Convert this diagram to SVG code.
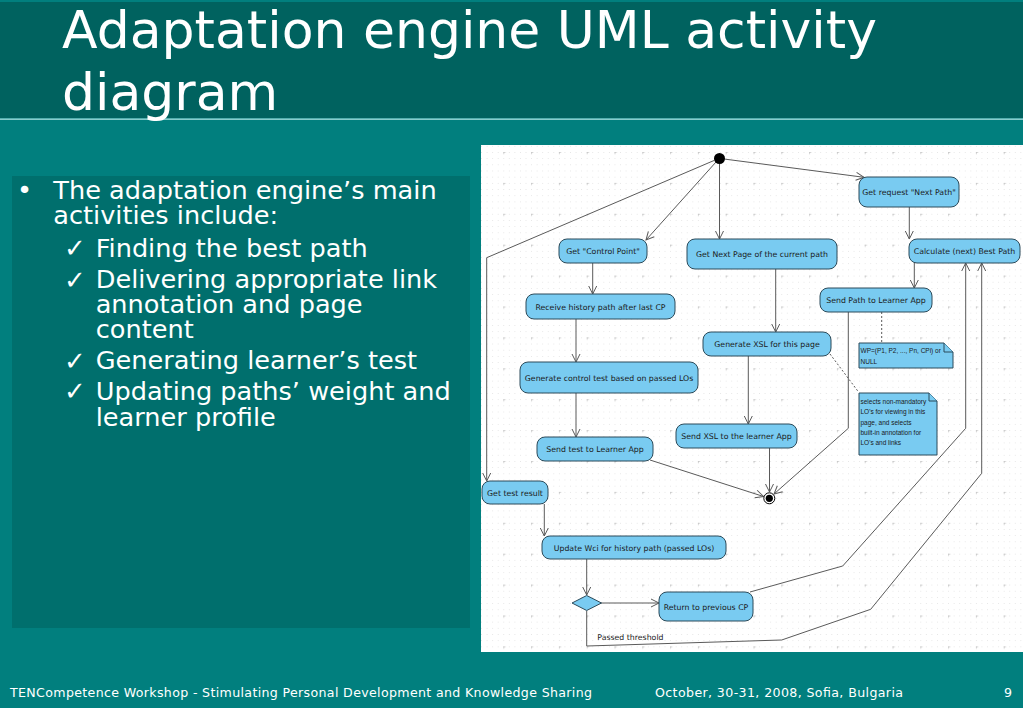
<svg xmlns="http://www.w3.org/2000/svg" width="1023" height="708" viewBox="0 0 1023 708">
<style>
.bg{fill:#017f7e}
.band{fill:#00625f}
.title{font-family:"DejaVu Sans",Verdana,sans-serif;font-size:52px;fill:#ffffff}
.body{font-family:"DejaVu Sans",Verdana,sans-serif;font-size:25.6px;fill:#ffffff}
.chk{font-family:"DejaVu Sans",sans-serif;font-size:26px;fill:#ffffff}
.foot{font-family:"DejaVu Sans",Verdana,sans-serif;font-size:12.6px;fill:#ffffff}
.node rect{fill:#79cbf1;stroke:#2d4b5a;stroke-width:1}
.node text{font-family:"DejaVu Sans",Verdana,sans-serif;font-size:7.8px;fill:#1a1a1a;text-anchor:middle}
.note path{fill:#79cbf1;stroke:#2d4b5a;stroke-width:1}
.note text{font-family:"Liberation Sans",Arial,sans-serif;font-size:6.5px;fill:#1a1a1a}
.conn path{fill:none;stroke:#5a5a5a;stroke-width:1}
.conn path.arr{marker-end:url(#arrow)}
.conn path.dot{stroke-dasharray:2 2}
.lbl{font-family:"DejaVu Sans",Verdana,sans-serif;font-size:7.8px;fill:#1a1a1a}
</style>
<defs>
<marker id="arrow" viewBox="-9 -5 10 10" markerWidth="10" markerHeight="10" refX="0" refY="0" orient="auto" markerUnits="userSpaceOnUse">
<path d="M-8,-4 L0,0 L-8,4" fill="none" stroke="#5a5a5a" stroke-width="1"/>
</marker>
<pattern id="dots" patternUnits="userSpaceOnUse" x="503.3" y="152" width="5.56" height="6.18">
<rect x="0" y="0" width="0.8" height="0.8" fill="#dcdcdc"/>
</pattern>
<pattern id="cross" patternUnits="userSpaceOnUse" x="503.3" y="152" width="27.8" height="30.9">
<path d="M-1.5,0.4 H2.3 M0.4,-1.5 V2.3" stroke="#c4c4c4" stroke-width="0.8"/>
</pattern>
</defs>

<rect class="bg" x="0" y="0" width="1023" height="708"/>
<rect class="band" x="0" y="2" width="1023" height="116"/>
<rect x="0" y="118.5" width="1023" height="1.3" fill="#a8dede"/>
<text class="title" x="62" y="48">Adaptation engine UML activity</text>
<text class="title" x="62" y="110">diagram</text>

<rect x="12" y="176" width="458" height="452" fill="#006f6d"/>
<g id="bullets">
<text class="body" x="17" y="199">•</text>
<text class="body" x="53.3" y="199">The adaptation engine’s main</text>
<text class="body" x="53.3" y="224.3">activities include:</text>
<text class="chk" x="64" y="257">✓</text>
<text class="body" x="95.7" y="256.7">Finding the best path</text>
<text class="chk" x="64" y="288.6">✓</text>
<text class="body" x="95.7" y="288.3">Delivering appropriate link</text>
<text class="body" x="95.7" y="313.3">annotation and page</text>
<text class="body" x="95.7" y="337.7">content</text>
<text class="chk" x="64" y="369.6">✓</text>
<text class="body" x="95.7" y="369.3">Generating learner’s test</text>
<text class="chk" x="64" y="400.3">✓</text>
<text class="body" x="95.7" y="400">Updating paths’ weight and</text>
<text class="body" x="95.7" y="425.7">learner profile</text>
</g>

<rect x="481" y="145" width="542" height="507" fill="#ffffff"/>
<rect x="481" y="145" width="542" height="507" fill="url(#dots)"/>
<rect x="481" y="145" width="542" height="507" fill="url(#cross)"/>

<g id="connectors" class="conn">
<path class="arr" d="M724,159 L864,177.3"/>
<path class="arr" d="M719.5,163.5 V239"/>
<path class="arr" d="M716,162 L646,240"/>
<path class="arr" d="M714,160.5 L486.7,257.7 V481"/>
<path class="arr" d="M909.3,207 V239"/>
<path class="arr" d="M914.3,263 V288"/>
<path class="arr" d="M592.7,263 V294"/>
<path class="arr" d="M775.7,269 V332"/>
<path class="arr" d="M576,319 V362"/>
<path class="arr" d="M748.3,356 V424"/>
<path class="arr" d="M576,393 V437"/>
<path class="arr" d="M650,460 L763.5,496.5"/>
<path class="arr" d="M769.5,448 V492"/>
<path class="arr" d="M848.3,312 V428.3 L774,494"/>
<path class="arr" d="M544.3,504 V536"/>
<path class="arr" d="M586.7,559 V595"/>
<path class="arr" d="M601,603 H659"/>
<path class="arr" d="M586.7,611 V646 L781.7,640 L870.7,609.3 L981.7,473.3 V263"/>
<path class="arr" d="M750,592 L842.7,566 L965.7,428.3 V263"/>
<path class="dot" d="M881.7,312 V343"/>
<path class="dot" d="M830,354 L858.3,391.7"/>
</g>
<text class="lbl" x="597.3" y="639.5">Passed threshold</text>

<g id="start"><circle cx="719.5" cy="158.5" r="5.5" fill="#000000"/></g>
<g id="end"><circle cx="769.3" cy="498.3" r="5.5" fill="#ffffff" stroke="#000000" stroke-width="1"/><circle cx="769.3" cy="498.3" r="3.6" fill="#000000"/></g>

<g id="n-getrequest" class="node"><rect x="859" y="177" width="100" height="30" rx="8"/><text x="909" y="195.3">Get request "Next Path"</text></g>
<g id="n-calculate" class="node"><rect x="909" y="239" width="111" height="24" rx="8"/><text x="964.5" y="254">Calculate (next) Best Path</text></g>
<g id="n-nextpage" class="node"><rect x="687" y="239" width="150" height="30" rx="8"/><text x="762" y="257">Get Next Page of the current path</text></g>
<g id="n-controlpoint" class="node"><rect x="559" y="239" width="88" height="24" rx="8"/><text x="603" y="254">Get "Control Point"</text></g>
<g id="n-receive" class="node"><rect x="526" y="294" width="149" height="25" rx="8"/><text x="600.5" y="309.5">Receive history path after last CP</text></g>
<g id="n-sendpath" class="node"><rect x="820" y="288" width="112" height="24" rx="8"/><text x="876" y="303">Send Path to Learner App</text></g>
<g id="n-genxsl" class="node"><rect x="703" y="332" width="128" height="24" rx="8"/><text x="767" y="347">Generate XSL for this page</text></g>
<g id="n-gentest" class="node"><rect x="520" y="362" width="178" height="31" rx="8"/><text x="609" y="380.5">Generate control test based on passed LOs</text></g>
<g id="n-sendxsl" class="node"><rect x="676" y="424" width="121" height="24" rx="8"/><text x="736.5" y="439">Send XSL to the learner App</text></g>
<g id="n-sendtest" class="node"><rect x="537" y="437" width="116" height="24" rx="8"/><text x="595" y="452">Send test to Learner App</text></g>
<g id="n-gettest" class="node"><rect x="482" y="481" width="66" height="23" rx="8"/><text x="515" y="495.5">Get test result</text></g>
<g id="n-update" class="node"><rect x="542" y="536" width="184" height="23" rx="8"/><text x="634" y="550.5">Update Wci for history path (passed LOs)</text></g>
<g id="n-return" class="node"><rect x="659" y="592" width="94" height="29" rx="8"/><text x="706" y="609.5">Return to previous CP</text></g>
<g id="n-decision" class="node"><path d="M586.7,595.5 L601.5,603 L586.7,610.5 L572,603 Z" fill="#79cbf1" stroke="#2d4b5a" stroke-width="1"/></g>

<g id="note-wp" class="note">
<path d="M859,343 H944 L953,352 V368 H859 Z"/>
<path d="M944,343 V352 H953"/>
<text x="860.5" y="353">WP=(P1, P2, ..., Pn, CPi) or</text>
<text x="860.5" y="364">NULL</text>
</g>
<g id="note-selects" class="note">
<path d="M859,393 H929 L937,401 V455 H859 Z"/>
<path d="M929,393 V401 H937"/>
<text x="860.5" y="403.5">selects non-mandatory</text>
<text x="860.5" y="414">LO's for viewing in this</text>
<text x="860.5" y="424.5">page, and selects</text>
<text x="860.5" y="435">built-in  annotation for</text>
<text x="860.5" y="445">LO's and links</text>
</g>

<g id="footer">
<text class="foot" x="10" y="697" textLength="582">TENCompetence Workshop - Stimulating Personal Development and Knowledge Sharing</text>
<text class="foot" x="655" y="697" textLength="248">October, 30-31, 2008, Sofia, Bulgaria</text>
<text class="foot" x="1004" y="697">9</text>
</g>
</svg>
